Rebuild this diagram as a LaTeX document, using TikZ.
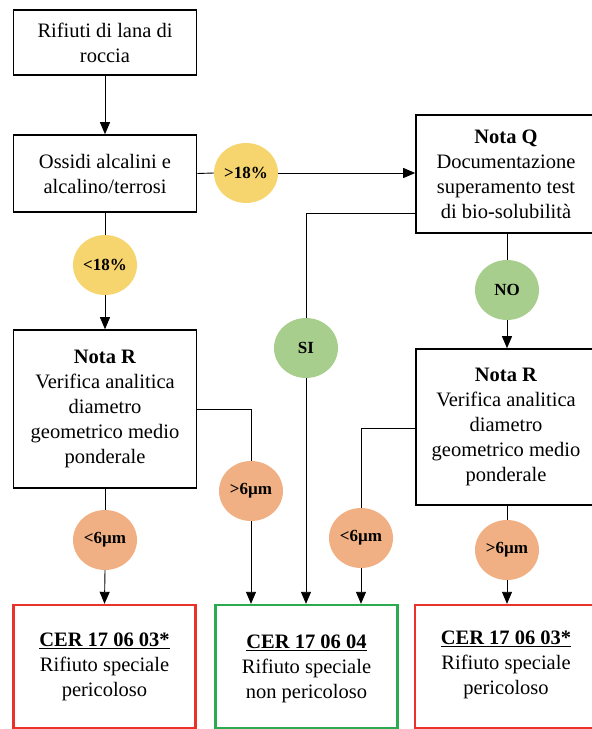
\documentclass[tikz,border=0pt]{standalone}
\usepackage{fontspec}
\setmainfont{Liberation Serif}
\usetikzlibrary{arrows.meta,shapes.geometric}
\definecolor{yelc}{RGB}{246,212,110}
\definecolor{orac}{RGB}{240,176,131}
\definecolor{grec}{RGB}{168,206,142}
\definecolor{redb}{RGB}{234,50,42}
\definecolor{greb}{RGB}{44,170,80}
\tikzset{
  box/.style={draw=black, line width=1.6pt, align=center, inner sep=0pt,
    font=\fontsize{20.5}{25}\selectfont},
  catbox/.style={line width=2.4pt, minimum width=182pt, minimum height=123pt, inner sep=0pt},
  cattext/.style={align=center, inner sep=0pt, font=\fontsize{20.5}{25}\selectfont},
  bubble/.style={ellipse, minimum width=64pt, minimum height=60pt, inner sep=0pt,
    font=\bfseries\fontsize{17}{19}\selectfont},
  conn/.style={line width=0.9pt},
  arr/.style={conn, -{Triangle[width=10pt,length=12pt]}}
}
\begin{document}
\begin{tikzpicture}[x=1pt,y=-1pt]
\useasboundingbox (0,0) rectangle (592,729);
\clip (0,0) rectangle (592,729);
% boxes
\node[box, minimum width=183pt, minimum height=65pt] (b1) at (105,42.5) {Rifiuti di lana di\\roccia};
\node[box, minimum width=183pt, minimum height=77pt] (b2) at (105,173.5) {Ossidi alcalini e\\alcalino/terrosi};
\node[box, minimum width=180pt, minimum height=118pt] (nq) at (506,174) {\textbf{Nota Q}\\Documentazione\\superamento test\\di bio-solubilità};
\node[box, minimum width=183pt, minimum height=158pt] (nrl) at (105,409) {\textbf{Nota R}\\Verifica analitica\\diametro\\geometrico medio\\ponderale};
\node[box, minimum width=180pt, minimum height=156pt] (nrr) at (506,427) {\textbf{Nota R}\\Verifica analitica\\diametro\\geometrico medio\\ponderale};
% category boxes
\node[catbox, draw=redb] (r1) at (104.5,666.5) {};
\node[catbox, draw=greb] (g1) at (306.5,666.5) {};
\node[catbox, draw=redb] (r2) at (506,666.5) {};
\node[cattext] (r1t) at (104.5,667) {\textbf{\underline{CER 17 06 03*}}\\Rifiuto speciale\\pericoloso};
\node[cattext] (g1t) at (306.5,669) {\textbf{\underline{CER 17 06 04}}\\Rifiuto speciale\\non pericoloso};
\node[cattext] (r2t) at (506,665) {\textbf{\underline{CER 17 06 03*}}\\Rifiuto speciale\\pericoloso};
% bubbles
\node[bubble, fill=yelc] (c1) at (246,173) {>18\%};
\node[bubble, fill=yelc] (c2) at (105,265) {<18\%};
\node[bubble, fill=grec] (si) at (306,348) {SI};
\node[bubble, fill=grec] (no) at (507,290) {NO};
\node[bubble, fill=orac] (c3) at (251,491) {>6µm};
\node[bubble, fill=orac] (c4) at (105,540) {<6µm};
\node[bubble, fill=orac] (c5) at (361,538) {<6µm};
\node[bubble, fill=orac] (c6) at (507,550) {>6µm};
% connectors
\coordinate (qout) at ([yshift=-39pt]nq.west);
\draw[arr] (b1.south) -- (b2.north);
\draw[conn] (b2.east) -- (c1.west);
\draw[arr] (c1.east) -- (c1.east -| nq.west);
\draw[conn] (b2.south) -- (c2.north);
\draw[arr] (c2.south) -- (nrl.north);
\draw[conn] (qout) -| (si.north);
\draw[arr] (si.south) -- (si.south |- g1.north);
\draw[conn] (no.north |- nq.south) -- (no.north);
\draw[arr] (no.south) -- (no.south |- nrr.north);
\draw[conn] (nrl.east) -| (c3.north);
\draw[arr] (c3.south) -- (c3.south |- g1.north);
\draw[conn] (nrl.south) -- (c4.north);
\draw[arr] (c4.south) -- (r1.north);
\draw[conn] ([yshift=-1pt]nrr.west) -| (c5.north);
\draw[arr] (c5.south) -- (c5.south |- g1.north);
\draw[conn] (c6.north |- nrr.south) -- (c6.north);
\draw[arr] (c6.south) -- (c6.south |- r2.north);
\end{tikzpicture}
\end{document}
